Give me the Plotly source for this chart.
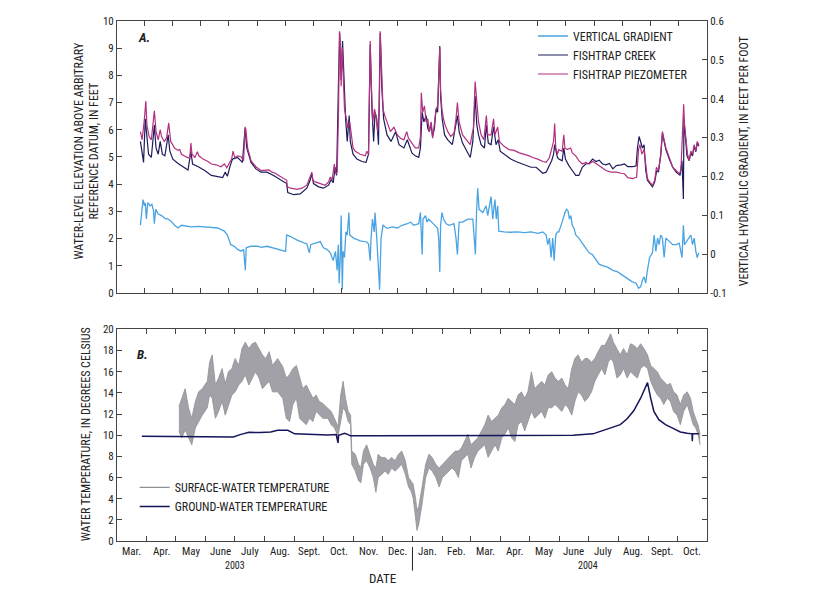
import numpy as np
import pandas as pd
import plotly.graph_objects as go

# ---------------- DATA (x positions are in "months since 1 Mar 2003") ----------------
PIEZO_M = [0.85,0.91,0.99,1.04,1.08,1.16,1.24,1.29,1.35,1.41,1.49,1.56,1.61,1.71,1.79,1.87,1.94,2.08,2.20,2.26,
           2.32,2.49,2.61,2.65,2.69,2.79,2.88,2.93,3.08,3.26,3.38,3.55,3.73,3.85,3.94,4.02,4.11,4.16,4.22,4.32,
           4.44,4.53,4.58,4.61,4.67,4.79,4.96,5.14,5.29,5.41,5.53,5.64,5.76,5.94,6.04,6.06,6.18,6.42,6.59,6.77,
           6.89,6.95,6.99,7.07,7.25,7.42,7.54,7.60,7.66,7.74,7.79,7.84,7.89,7.92,7.96,7.98,8.02,8.05,8.10,8.17,
           8.22,8.29,8.34,8.41,8.49,8.67,8.85,8.91,8.97,9.03,9.06,9.12,9.18,9.23,9.29,9.35,9.38,9.43,9.48,9.54,
           9.62,9.74,9.86,9.98,10.09,10.21,10.31,10.37,10.45,10.61,10.73,10.79,10.82,10.87,10.93,10.99,11.05,11.11,11.18,11.23,
           11.30,11.36,11.42,11.46,11.50,11.53,11.58,11.64,11.70,11.80,11.91,12.03,12.10,12.15,12.21,12.33,12.45,12.60,12.66,12.71,
           12.77,12.83,12.89,12.98,13.08,13.17,13.22,13.34,13.43,13.48,13.58,13.64,13.81,13.99,14.17,14.35,14.53,14.70,14.82,15.00,
           15.18,15.30,15.42,15.50,15.57,15.61,15.65,15.71,15.76,15.88,15.94,15.98,16.06,16.18,16.24,16.36,16.47,16.59,16.71,16.83,
           16.95,17.07,17.24,17.42,17.60,17.78,17.95,18.07,18.19,18.37,18.51,18.58,18.63,18.70,18.78,18.84,18.90,18.98,19.08,19.16,
           19.22,19.29,19.37,19.43,19.49,19.55,19.67,19.79,19.91,20.02,20.08,20.14,20.18,20.21,20.26,20.32,20.38,20.44,20.50,20.56,
           20.62,20.67,20.73]
PIEZO_FT = [5.93,5.63,6.40,7.06,6.17,5.75,5.63,6.05,6.70,5.93,5.63,6.00,5.75,5.57,5.69,6.25,5.57,5.33,5.24,5.27,
            5.10,5.00,4.95,5.51,5.10,4.98,5.19,5.04,4.92,4.83,4.74,4.71,4.64,4.74,4.60,4.76,4.92,5.21,4.98,5.04,
            5.01,4.86,6.10,6.00,5.33,4.86,4.64,4.50,4.50,4.52,4.44,4.40,4.32,4.20,4.14,3.90,3.85,3.81,3.85,3.96,
            4.26,4.44,4.14,4.08,4.02,3.96,4.08,4.26,4.14,4.74,4.38,4.44,6.76,9.62,8.90,7.60,9.02,8.19,6.76,6.40,
            6.05,6.29,5.81,5.33,5.21,5.10,5.04,5.21,5.10,9.26,7.95,6.29,6.76,6.52,5.93,6.64,9.62,8.43,6.76,6.52,
            6.29,5.93,6.10,5.81,5.69,5.63,5.93,5.69,5.57,5.33,5.33,5.75,7.36,6.64,6.88,6.29,6.40,5.93,6.29,5.69,
            6.23,6.76,6.88,7.95,9.02,7.48,6.76,6.40,6.17,5.93,5.75,5.87,6.40,7.00,6.29,5.81,5.63,5.45,5.81,6.05,
            7.77,6.88,6.29,5.81,5.63,6.52,5.81,5.81,6.40,5.81,6.10,5.57,5.39,5.27,5.24,5.15,5.10,5.04,4.98,4.92,
            4.83,4.80,4.98,5.33,5.57,6.23,5.33,5.10,5.27,5.21,5.81,5.33,5.27,5.33,5.15,5.04,4.86,4.74,4.80,4.74,
            4.83,4.76,4.62,4.50,4.44,4.44,4.40,4.38,4.24,4.20,4.26,5.27,5.45,5.10,5.27,4.74,4.20,4.08,3.96,4.14,
            4.62,4.50,5.10,5.93,5.63,5.33,4.98,4.62,4.50,4.38,4.50,5.81,6.94,6.17,5.57,5.10,4.86,5.21,5.10,5.45,
            5.21,5.57,5.45]

CREEK_M = [0.85,0.91,0.96,1.02,1.07,1.14,1.24,1.32,1.35,1.41,1.49,1.56,1.64,1.73,1.85,1.91,2.02,2.20,2.38,2.55,
           2.65,2.71,2.91,3.14,3.38,3.61,3.79,3.88,3.96,4.06,4.14,4.32,4.49,4.58,4.64,4.79,4.96,5.14,5.35,5.58,
           5.76,5.94,6.04,6.08,6.30,6.53,6.77,6.89,6.95,7.01,7.19,7.36,7.54,7.63,7.70,7.77,7.82,7.89,7.93,7.98,
           8.03,8.08,8.14,8.20,8.27,8.31,8.41,8.55,8.73,8.88,8.97,9.03,9.09,9.15,9.20,9.26,9.32,9.38,9.44,9.50,
           9.62,9.76,9.92,10.04,10.21,10.33,10.45,10.49,10.61,10.73,10.79,10.85,10.91,10.99,11.05,11.11,11.17,11.23,11.30,11.36,
           11.42,11.46,11.50,11.53,11.59,11.68,11.80,11.97,12.09,12.15,12.21,12.33,12.45,12.60,12.69,12.77,12.83,12.89,12.98,13.10,
           13.17,13.24,13.34,13.43,13.52,13.60,13.67,13.87,14.05,14.23,14.41,14.58,14.76,14.94,15.06,15.18,15.30,15.42,15.50,15.57,
           15.61,15.71,15.76,15.88,15.94,16.00,16.12,16.24,16.36,16.47,16.59,16.71,16.83,16.95,17.07,17.18,17.30,17.42,17.54,17.66,
           17.78,17.95,18.07,18.19,18.37,18.49,18.54,18.60,18.66,18.72,18.78,18.84,18.90,18.98,19.08,19.16,19.23,19.29,19.37,19.43,
           19.49,19.55,19.67,19.79,19.91,20.05,20.12,20.17,20.19,20.24,20.30,20.38,20.44,20.50,20.56,20.62,20.67,20.73]
CREEK_FT = [5.57,5.10,4.80,6.40,5.93,5.10,4.98,5.81,6.17,5.33,5.10,5.57,5.10,5.04,5.81,5.21,4.92,4.76,4.62,4.52,
            5.21,4.74,4.64,4.50,4.32,4.26,4.24,4.44,4.29,4.68,4.92,4.98,4.80,6.05,5.33,4.80,4.56,4.44,4.44,4.32,
            4.20,4.08,4.02,3.69,3.61,3.64,3.85,4.14,4.38,4.02,3.90,3.85,3.96,4.17,4.05,4.62,4.32,7.95,9.56,7.83,
            9.26,7.95,6.40,5.57,6.52,5.57,5.10,4.92,4.83,4.80,5.10,9.14,6.76,5.57,6.64,6.40,5.45,9.56,7.48,6.40,
            5.81,5.57,5.93,5.45,5.33,5.63,5.27,5.15,5.04,4.98,5.33,6.64,6.29,6.52,6.05,5.93,6.23,5.75,6.05,6.76,
            6.64,8.19,9.08,7.24,6.40,5.81,5.63,5.45,6.17,6.52,5.93,5.51,5.27,4.98,5.57,7.24,6.17,5.81,5.45,5.33,
            6.17,5.51,5.45,6.11,5.45,5.63,5.21,5.04,4.92,4.83,4.76,4.68,4.62,4.62,4.50,4.40,4.44,4.68,4.86,5.10,
            5.45,4.98,4.92,4.86,5.33,4.92,4.68,4.50,4.32,4.32,4.62,4.74,4.76,4.92,4.83,4.88,4.74,4.71,4.76,4.56,
            4.68,4.71,4.74,4.64,4.64,4.67,5.33,5.75,5.51,5.33,5.45,4.50,4.14,4.02,3.90,4.08,4.50,4.44,5.04,5.87,
            5.57,5.27,4.92,4.62,4.44,4.32,4.86,3.45,6.40,5.69,5.04,4.86,5.15,5.04,5.39,5.19,5.51,5.39]

GRAD_M = [0.85,0.91,0.94,0.99,1.02,1.06,1.11,1.20,1.26,1.32,1.35,1.40,1.49,1.61,1.73,1.85,1.96,2.08,2.20,2.32,
          2.44,2.67,2.91,3.14,3.38,3.61,3.85,3.96,4.08,4.20,4.32,4.44,4.53,4.59,4.62,4.79,5.02,5.14,5.35,5.58,
          5.82,6.00,6.04,6.18,6.42,6.59,6.77,6.86,6.91,7.07,7.25,7.36,7.48,7.60,7.70,7.78,7.84,7.88,7.91,7.95,
          7.98,8.02,8.05,8.10,8.15,8.20,8.26,8.29,8.43,8.67,8.91,8.97,9.03,9.06,9.11,9.17,9.20,9.26,9.31,9.36,
          9.41,9.48,9.62,9.80,9.98,10.15,10.33,10.45,10.55,10.73,10.79,10.85,10.88,10.97,11.02,11.08,11.20,11.32,11.42,11.46,
          11.50,11.53,11.58,11.64,11.74,11.86,12.03,12.10,12.15,12.21,12.33,12.51,12.69,12.74,12.78,12.82,12.86,12.91,13.04,13.16,
          13.22,13.34,13.40,13.48,13.53,13.58,13.62,13.81,14.05,14.29,14.53,14.76,15.00,15.18,15.30,15.36,15.42,15.48,15.54,15.59,
          15.65,15.71,15.76,15.88,15.98,16.04,16.09,16.14,16.19,16.24,16.30,16.36,16.47,16.59,16.71,16.83,16.95,17.07,17.18,17.30,
          17.48,17.66,17.83,18.01,18.19,18.34,18.49,18.58,18.66,18.72,18.78,18.84,18.90,18.98,19.08,19.14,19.20,19.26,19.31,19.37,
          19.43,19.49,19.55,19.67,19.79,19.91,20.02,20.12,20.17,20.21,20.28,20.38,20.44,20.50,20.56,20.62,20.67,20.73]
GRAD_FTFT = [0.074,0.132,0.140,0.124,0.132,0.090,0.132,0.124,0.128,0.111,0.078,0.115,0.103,0.099,0.092,0.090,0.084,0.074,0.067,0.074,
             0.072,0.070,0.071,0.070,0.068,0.067,0.059,0.049,0.024,0.020,0.012,0.007,0.012,-0.042,0.016,0.020,0.020,0.017,0.020,0.016,
             0.012,0.007,0.049,0.045,0.036,0.032,0.026,0.003,0.024,0.028,0.032,0.016,0.012,0.003,-0.017,0.007,-0.042,0.024,-0.075,-0.009,
             0.099,-0.092,0.007,-0.009,0.057,0.049,0.107,0.049,0.041,0.034,0.031,0.026,-0.017,0.041,0.090,0.057,0.107,0.041,-0.042,-0.092,
             0.041,0.074,0.066,0.070,0.067,0.074,0.078,0.082,0.074,0.078,0.107,-0.001,0.090,0.099,0.082,0.090,0.082,0.074,0.066,0.041,
             -0.046,0.074,0.107,0.090,0.078,0.074,0.078,0.041,-0.001,0.082,0.082,0.090,0.090,0.041,-0.001,0.107,0.169,0.115,0.107,0.124,
             0.099,0.148,0.090,0.140,0.090,0.124,0.059,0.057,0.056,0.057,0.055,0.057,0.053,0.057,0.049,0.024,0.041,-0.009,0.041,-0.017,
             0.049,0.057,0.057,0.082,0.107,0.115,0.111,0.090,0.099,0.074,0.066,0.049,0.041,0.028,0.016,0.003,-0.002,-0.013,-0.026,-0.030,
             -0.034,-0.042,-0.046,-0.055,-0.063,-0.071,-0.075,-0.088,-0.084,-0.067,-0.059,-0.075,-0.042,-0.009,0.003,0.049,0.007,0.041,0.024,0.049,
             0.041,-0.009,0.041,0.032,0.024,0.024,0.028,-0.009,0.074,0.024,0.032,0.041,0.049,0.024,0.041,0.007,-0.009,0.003]

SW_M = [2.10,2.19,2.31,2.42,2.53,2.65,2.76,2.88,3.05,3.13,3.22,3.33,3.44,3.56,3.67,3.78,3.90,4.01,4.13,4.24,
        4.35,4.47,4.58,4.69,4.81,4.92,5.03,5.15,5.26,5.43,5.60,5.72,5.83,5.94,6.06,6.17,6.28,6.40,6.51,6.63,
        6.74,6.85,6.97,7.14,7.25,7.36,7.48,7.57,7.65,7.73,7.82,7.90,7.94,8.06,8.17,8.25,8.34,8.45,8.57,8.68,
        8.77,8.85,8.96,9.08,9.19,9.30,9.42,9.53,9.64,9.76,9.87,9.95,10.02,10.10,10.15,10.21,10.27,10.32,10.44,10.55,
        10.66,10.78,10.89,11.00,11.12,11.23,11.34,11.46,11.57,11.68,11.80,11.91,12.02,12.14,12.25,12.37,12.48,12.59,12.71,12.82,
        12.93,13.05,13.16,13.27,13.39,13.50,13.61,13.73,13.84,13.95,14.07,14.18,14.29,14.41,14.52,14.63,14.75,14.86,14.97,15.09,
        15.20,15.31,15.43,15.54,15.65,15.77,15.88,15.99,16.11,16.22,16.33,16.45,16.56,16.67,16.75,16.84,16.96,17.07,17.18,17.30,
        17.41,17.52,17.64,17.75,17.86,17.98,18.09,18.20,18.32,18.43,18.54,18.66,18.77,18.88,19.00,19.11,19.22,19.34,19.45,19.54,
        19.62,19.70,19.77]
SW_MAX_C = [12.7,13.5,14.4,12.6,11.6,13.2,14.1,14.4,15.1,16.9,17.6,14.75,15.4,16.3,14.9,16.0,16.3,17.25,16.6,18.2,
            18.8,18.2,18.65,18.8,18.2,17.6,17.25,17.9,16.6,17.25,16.5,15.4,15.75,16.3,16.6,15.4,14.4,14.75,14.1,13.5,
            13.8,13.2,13.0,12.6,12.25,11.6,10.8,13.8,15.1,13.5,12.25,11.9,8.5,8.2,7.25,6.9,8.5,9.1,8.2,7.25,
            6.9,8.2,7.9,7.9,7.6,7.9,7.6,8.2,8.5,7.6,6.0,5.7,5.4,4.1,2.9,3.25,4.1,5.1,7.25,8.2,
            7.9,7.25,6.9,7.25,7.6,7.9,8.2,8.5,8.5,8.8,9.4,10.1,9.1,9.4,9.75,10.4,11.0,11.9,11.3,11.6,
            11.9,12.6,12.9,13.5,13.2,12.9,13.8,14.1,13.5,14.1,16.0,14.4,14.75,15.1,14.75,15.7,16.0,15.4,15.1,15.4,
            14.75,14.4,16.3,17.25,17.6,16.9,17.25,17.25,16.9,17.25,17.9,18.5,18.5,19.1,19.6,18.8,18.2,17.6,18.2,17.6,
            18.65,18.5,18.2,18.65,18.2,17.6,16.6,16.3,16.0,15.4,15.1,14.75,14.9,14.1,13.8,12.9,13.8,14.1,13.5,12.25,
            11.6,11.0,10.1]
SW_MIN_C = [10.4,9.75,10.5,9.75,9.1,10.7,11.3,11.9,12.6,13.8,13.5,11.6,12.25,13.2,11.9,12.9,13.8,14.1,14.75,15.1,
            15.7,14.75,15.4,16.0,15.4,14.4,14.75,15.1,14.1,14.1,13.5,11.6,11.3,12.9,13.5,11.6,11.3,11.0,11.6,11.3,
            12.25,11.9,11.6,11.6,11.0,10.7,9.9,11.3,12.6,12.25,11.3,11.0,7.25,6.6,5.7,5.5,7.25,7.6,6.9,6.0,
            4.6,6.0,6.3,6.6,6.3,6.9,6.6,6.9,7.25,6.3,5.1,4.75,4.1,2.25,1.0,1.6,2.6,3.5,6.0,6.9,
            6.6,6.0,5.1,6.0,6.3,6.6,6.9,6.6,6.0,7.6,7.9,8.2,6.9,7.9,8.5,8.8,9.1,7.9,8.5,9.1,
            8.5,9.75,10.1,10.7,9.75,9.4,11.0,11.3,10.4,11.3,12.25,11.6,11.9,12.25,11.6,12.6,12.6,12.9,12.6,12.25,
            12.9,12.6,11.9,13.2,14.1,13.8,13.2,13.5,14.1,15.1,15.7,16.3,15.7,16.9,17.25,16.9,15.4,15.7,16.3,15.4,
            16.0,15.7,15.4,16.3,16.6,16.3,15.1,14.4,13.8,13.5,12.9,13.5,13.2,12.25,11.9,11.0,12.25,12.9,11.9,11.0,
            10.7,10.1,9.1]

GW_M = [0.83,2.02,3.16,3.95,4.18,4.47,4.86,5.20,5.43,5.77,6.00,6.57,7.14,7.42,7.48,7.50,7.70,7.82,7.89,8.68,
        10.95,13.22,15.48,16.16,16.50,16.84,17.07,17.30,17.52,17.75,17.92,17.98,18.09,18.20,18.37,18.60,18.88,19.11,19.34,19.50,
        19.51,19.52,19.73]
GW_C = [9.90,9.88,9.88,9.84,10.06,10.28,10.25,10.31,10.47,10.47,10.13,10.06,10.03,10.06,9.28,10.00,10.19,10.06,9.94,9.94,
        9.94,10.00,10.00,10.13,10.44,10.75,11.00,11.56,12.31,13.50,14.60,14.97,13.50,12.25,11.47,11.00,10.63,10.31,10.19,10.13,
        9.44,10.13,10.13]

MONTH_LABELS = ["Mar.", "Apr.", "May", "June", "July", "Aug.", "Sept.", "Oct.", "Nov.", "Dec.",
                "Jan.", "Feb.", "Mar.", "Apr.", "May", "June", "July", "Aug.", "Sept.", "Oct."]
YEAR_LABELS = ["2003", "2004"]
GRAD_TICKS = [-0.1, 0, 0.1, 0.2, 0.3, 0.4, 0.5, 0.6]
GRAD_TICKTEXT = ["-0.1", "0", "0.1", "0.2", "0.3", "0.4", "0.5", "0.6"]


def m_to_date(ms):
    out = []
    for m in ms:
        k = int(np.floor(m))
        frac = m - k
        y = 2003 + (2 + k) // 12
        mo = (2 + k) % 12 + 1
        start = pd.Timestamp(y, mo, 1)
        out.append(start + pd.Timedelta(days=frac * start.days_in_month))
    return out


FONT = "Liberation Sans Narrow, Roboto Condensed, Arial Narrow, Liberation Sans, sans-serif"
TXT = "#222222"
AX = "#444444"

C_GRAD = "#4aa3e3"
C_CREEK = "#1c1c5c"
C_PIEZO = "#b2307f"
C_SW = "#8f8f96"
C_SW_FILL = "rgba(148,148,155,0.88)"
C_GW = "#15155a"

fig = go.Figure()

# ---- Panel A
fig.add_trace(go.Scatter(x=m_to_date(GRAD_M), y=GRAD_FTFT, mode="lines", name="VERTICAL GRADIENT",
                         line=dict(color=C_GRAD, width=1.3), xaxis="x", yaxis="y2", legend="legend"))
fig.add_trace(go.Scatter(x=m_to_date(CREEK_M), y=CREEK_FT, mode="lines", name="FISHTRAP CREEK",
                         line=dict(color=C_CREEK, width=1.2), xaxis="x", yaxis="y", legend="legend"))
fig.add_trace(go.Scatter(x=m_to_date(PIEZO_M), y=PIEZO_FT, mode="lines", name="FISHTRAP PIEZOMETER",
                         line=dict(color=C_PIEZO, width=1.2), xaxis="x", yaxis="y", legend="legend"))

# ---- Panel B
sw_dates = m_to_date(SW_M)
fig.add_trace(go.Scatter(x=sw_dates, y=SW_MIN_C, mode="lines", line=dict(color=C_SW, width=0.8),
                         showlegend=False, xaxis="x3", yaxis="y3", hoverinfo="skip"))
fig.add_trace(go.Scatter(x=sw_dates, y=SW_MAX_C, mode="lines", line=dict(color=C_SW, width=0.8),
                         fill="tonexty", fillcolor=C_SW_FILL, showlegend=False, xaxis="x3", yaxis="y3"))
fig.add_trace(go.Scatter(x=[None], y=[None], mode="lines", name="SURFACE-WATER TEMPERATURE",
                         line=dict(color=C_SW, width=1.2), xaxis="x3", yaxis="y3", legend="legend2"))
fig.add_trace(go.Scatter(x=m_to_date(GW_M), y=GW_C, mode="lines", name="GROUND-WATER TEMPERATURE",
                         line=dict(color=C_GW, width=1.5), xaxis="x3", yaxis="y3", legend="legend2"))

axis_common = dict(showline=True, linecolor=AX, linewidth=1, ticks="inside", ticklen=5,
                   tickcolor=AX, showgrid=False, zeroline=False,
                   tickfont=dict(family=FONT, size=11, color=TXT))

# plot area (figure px): top 7, bottom 533, height 526; the page body adds an 8 px offset
TOP_DOM = [0.4772, 1.0]
BOT_DOM = [0.0, 0.4068]

fig.update_layout(
    width=820, height=600,
    margin=dict(l=109, r=121, t=7, b=67),
    paper_bgcolor="white", plot_bgcolor="white",
    font=dict(family=FONT, size=11, color=TXT),
    xaxis=dict(**axis_common, domain=[0, 1], anchor="y", type="date",
               range=["2003-03-01 21:50", "2004-12-01 17:45"], dtick="M1", tick0="2003-03-01",
               showticklabels=False, mirror="ticks"),
    yaxis=dict(**axis_common, domain=TOP_DOM, anchor="x", range=[0, 10], dtick=1,
               ticklabeloverflow="allow"),
    yaxis2=dict(**axis_common, overlaying="y", side="right", anchor="x", range=[-0.1, 0.6],
                tickmode="array", tickvals=GRAD_TICKS, ticktext=GRAD_TICKTEXT,
                ticklabeloverflow="allow"),
    xaxis3=dict(**axis_common, domain=[0, 1], anchor="y3", type="date",
                range=["2003-03-01", "2004-11-01"], dtick="M1", tick0="2003-03-01",
                showticklabels=False, mirror="ticks"),
    yaxis3=dict(**axis_common, domain=BOT_DOM, anchor="x3", range=[0, 20], dtick=2, mirror="ticks"),
    legend=dict(x=0.705, y=0.999, xanchor="left", yanchor="top", bgcolor="rgba(0,0,0,0)",
                font=dict(family=FONT, size=12, color=TXT), tracegroupgap=0, itemwidth=30,
                traceorder="normal"),
    legend2=dict(x=0.03, y=0.131, xanchor="left", yanchor="top", bgcolor="rgba(0,0,0,0)",
                 font=dict(family=FONT, size=12, color=TXT), tracegroupgap=0, itemwidth=30,
                 traceorder="normal"),
    showlegend=True,
)

ann = []
for i, lab in enumerate(MONTH_LABELS):
    d = m_to_date([i + 0.5])[0]
    ann.append(dict(x=d, xref="x3", y=-0.0209, yref="paper", text=lab, showarrow=False,
                    font=dict(family=FONT, size=11, color=TXT), xanchor="center", yanchor="middle"))
ann.append(dict(x=m_to_date([4.0])[0], xref="x3", y=-0.0475, yref="paper", text=YEAR_LABELS[0],
                showarrow=False, font=dict(family=FONT, size=10, color=TXT), xanchor="center", yanchor="middle"))
ann.append(dict(x=m_to_date([16.0])[0], xref="x3", y=-0.0475, yref="paper", text=YEAR_LABELS[1],
                showarrow=False, font=dict(family=FONT, size=10, color=TXT), xanchor="center", yanchor="middle"))
ann.append(dict(x=0.4508, xref="paper", y=-0.0722, yref="paper", text="DATE", showarrow=False,
                font=dict(family=FONT, size=13, color=TXT), xanchor="center", yanchor="middle"))
ann.append(dict(x=0.0458, xref="paper", y=0.9677, yref="paper", text="<b><i>A.</i></b>", showarrow=False,
                font=dict(family=FONT, size=13, color=TXT), xanchor="center", yanchor="middle"))
ann.append(dict(x=0.0424, xref="paper", y=0.3593, yref="paper", text="<b><i>B.</i></b>", showarrow=False,
                font=dict(family=FONT, size=13, color=TXT), xanchor="center", yanchor="middle"))
ann.append(dict(x=-0.0525, xref="paper", y=0.749, yref="paper", textangle=-90,
                text="WATER-LEVEL ELEVATION ABOVE ARBITRARY<br>REFERENCE DATUM, IN FEET",
                showarrow=False, font=dict(family=FONT, size=12, color=TXT), xanchor="center", yanchor="middle"))
ann.append(dict(x=1.064, xref="paper", y=0.730, yref="paper", textangle=-90,
                text="VERTICAL HYDRAULIC GRADIENT, IN FEET PER FOOT",
                showarrow=False, font=dict(family=FONT, size=12, color=TXT), xanchor="center", yanchor="middle"))
ann.append(dict(x=-0.0525, xref="paper", y=0.2053, yref="paper", textangle=-90,
                text="WATER TEMPERATURE, IN DEGREES CELSIUS",
                showarrow=False, font=dict(family=FONT, size=12, color=TXT), xanchor="center", yanchor="middle"))
fig.update_layout(annotations=ann)

fig.add_shape(type="line", xref="x3", yref="paper", x0="2004-01-01", x1="2004-01-01",
              y0=-0.0114, y1=-0.057, line=dict(color=TXT, width=1))

fig.write_html("out.html")
